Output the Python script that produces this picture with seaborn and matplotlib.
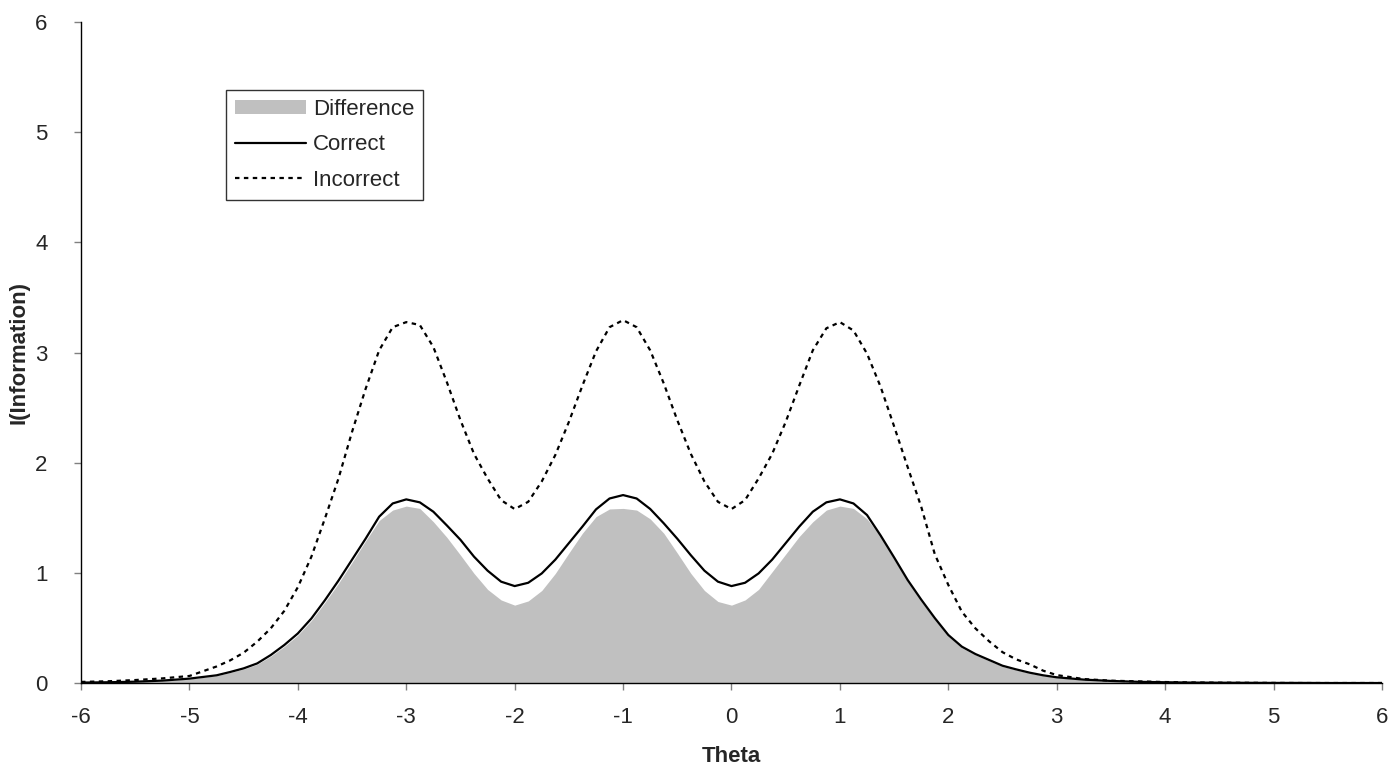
import pandas as pd
import matplotlib.pyplot as plt
import seaborn as sns
from matplotlib.patches import Patch
from matplotlib.lines import Line2D

# Theta grid and values
theta = [-6.0, -5.75, -5.5, -5.25, -5.0,
         -4.75, -4.625, -4.5, -4.375, -4.25, -4.125, -4.0, -3.875,
         -3.75, -3.625, -3.5, -3.375, -3.25, -3.125, -3.0, -2.875,
         -2.75, -2.625, -2.5, -2.375, -2.25, -2.125, -2.0, -1.875,
         -1.75, -1.625, -1.5, -1.375, -1.25, -1.125, -1.0, -0.875,
         -0.75, -0.625, -0.5, -0.375, -0.25, -0.125, 0.0, 0.125,
         0.25, 0.375, 0.5, 0.625, 0.75, 0.875, 1.0, 1.125,
         1.25, 1.375, 1.5, 1.625, 1.75, 1.875, 2.0, 2.125,
         2.25, 2.375, 2.5, 2.625, 2.75, 2.875, 3.0,
         3.25, 3.5, 3.75, 4.0, 4.25, 4.5, 4.75, 5.0, 5.25, 5.5, 5.75, 6.0]

correct = [0.004, 0.007, 0.012, 0.022, 0.040,
           0.070, 0.100, 0.133, 0.178, 0.254, 0.345, 0.450, 0.586,
           0.752, 0.930, 1.120, 1.310, 1.510, 1.630, 1.667, 1.640,
           1.555, 1.430, 1.300, 1.147, 1.020, 0.920, 0.880, 0.910,
           0.995, 1.120, 1.270, 1.420, 1.576, 1.675, 1.706, 1.675,
           1.580, 1.450, 1.310, 1.160, 1.020, 0.920, 0.880, 0.910,
           0.995, 1.120, 1.270, 1.420, 1.555, 1.640, 1.667, 1.630,
           1.525, 1.340, 1.140, 0.935, 0.757, 0.590, 0.436, 0.330,
           0.263, 0.210, 0.157, 0.124, 0.094, 0.070, 0.052,
           0.031, 0.019, 0.011, 0.007, 0.004, 0.003, 0.002, 0.001, 0.001, 0.0, 0.0, 0.0]

incorrect = [0.010, 0.016, 0.027, 0.042, 0.064,
             0.150, 0.205, 0.275, 0.375, 0.496, 0.655, 0.870, 1.147,
             1.494, 1.857, 2.280, 2.670, 3.020, 3.230, 3.276, 3.250,
             3.050, 2.730, 2.386, 2.080, 1.857, 1.660, 1.579, 1.645,
             1.830, 2.070, 2.370, 2.700, 3.010, 3.230, 3.294, 3.230,
             3.020, 2.720, 2.386, 2.080, 1.830, 1.645, 1.579, 1.660,
             1.857, 2.080, 2.370, 2.700, 3.020, 3.220, 3.276, 3.200,
             2.990, 2.690, 2.330, 1.960, 1.600, 1.170, 0.890, 0.647,
             0.496, 0.380, 0.280, 0.215, 0.170, 0.112, 0.072,
             0.036, 0.021, 0.015, 0.009, 0.005, 0.003, 0.002, 0.001, 0.0, 0.0, 0.0, 0.0]

difference = [0.003, 0.006, 0.011, 0.020, 0.037,
              0.066, 0.095, 0.127, 0.170, 0.243, 0.332, 0.435, 0.568,
              0.732, 0.905, 1.095, 1.290, 1.475, 1.570, 1.606, 1.585,
              1.464, 1.322, 1.161, 0.995, 0.850, 0.754, 0.707, 0.745,
              0.840, 0.995, 1.180, 1.360, 1.510, 1.580, 1.585, 1.570,
              1.490, 1.360, 1.180, 0.995, 0.840, 0.740, 0.707, 0.754,
              0.850, 1.010, 1.170, 1.330, 1.464, 1.570, 1.606, 1.585,
              1.490, 1.330, 1.125, 0.920, 0.740, 0.580, 0.425, 0.320,
              0.255, 0.203, 0.151, 0.119, 0.090, 0.067, 0.050,
              0.029, 0.017, 0.010, 0.006, 0.004, 0.002, 0.001, 0.001, 0.0, 0.0, 0.0, 0.0]

df = pd.DataFrame({'Theta': theta, 'Correct': correct,
                   'Incorrect': incorrect, 'Difference': difference})

sns.set_style("ticks")
plt.rcParams['font.family'] = ['Liberation Sans', 'DejaVu Sans']
plt.rcParams['axes.unicode_minus'] = False

fig = plt.figure(figsize=(13.92, 7.73), dpi=100)
ax = fig.add_axes([0.0582, 0.1164, 0.9346, 0.8551])

# Shaded difference area
ax.fill_between(df['Theta'], 0, df['Difference'], color='#C0C0C0', linewidth=0)

sns.lineplot(data=df, x='Theta', y='Correct', ax=ax, color='black', linewidth=1.6)
sns.lineplot(data=df, x='Theta', y='Incorrect', ax=ax, color='black',
             linewidth=1.6, linestyle=(0, (2, 2)))

ax.set_xlim(-6, 6)
ax.set_ylim(0, 6)
ax.set_xticks(range(-6, 7))
ax.set_yticks(range(0, 7))
ax.tick_params(labelsize=16, length=5, width=1, color='#808080')
ax.tick_params(axis='x', pad=12)
ax.tick_params(axis='y', pad=19)
for s in ['left', 'bottom']:
    ax.spines[s].set_color('black')
    ax.spines[s].set_linewidth(1)
sns.despine(ax=ax)

ax.set_xlabel('Theta', fontsize=16, fontweight='bold', labelpad=13)
ax.set_ylabel('I(Information)', fontsize=16, fontweight='bold', labelpad=4)

handles = [Patch(facecolor='#C0C0C0', edgecolor='none'),
           Line2D([], [], color='black', linewidth=1.6),
           Line2D([], [], color='black', linewidth=1.6, linestyle=(0, (2, 2)))]
leg = ax.legend(handles, ['Difference', 'Correct', 'Incorrect'],
                loc='upper left', bbox_to_anchor=(0.1115, 0.897),
                fontsize=16, frameon=True, fancybox=False,
                handlelength=3.2, handleheight=0.6, handletextpad=0.3,
                labelspacing=0.65, borderpad=0.4, borderaxespad=0)
leg.get_frame().set_edgecolor('black')
leg.get_frame().set_linewidth(1)

plt.savefig('out.png', dpi=100)
